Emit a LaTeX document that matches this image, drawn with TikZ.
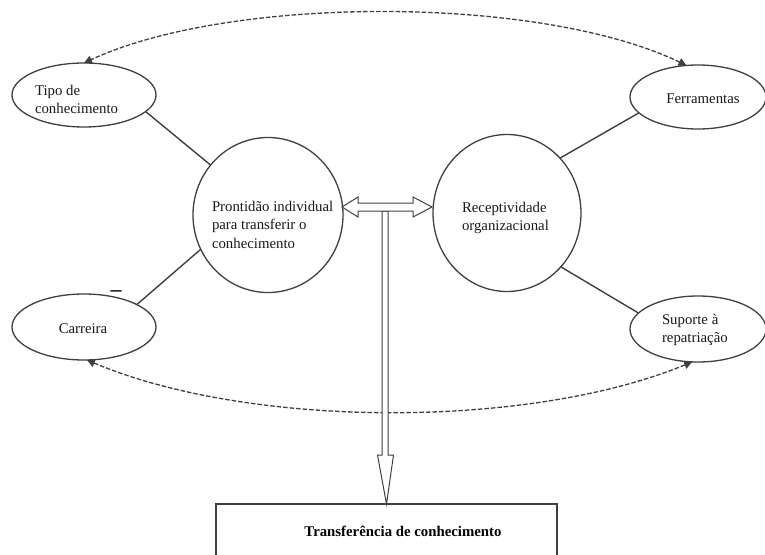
\documentclass[tikz,border=0pt]{standalone}
\usepackage{fontspec}
\setmainfont{Liberation Serif}
\usetikzlibrary{shapes.geometric,arrows.meta}
\definecolor{linec}{gray}{0.25}
\begin{document}
\begin{tikzpicture}[x=1pt,y=-1pt,
  every node/.style={inner sep=0pt, outer sep=0pt},
  oval/.style={ellipse, draw=linec, line width=1.3pt},
  txt/.style={font=\fontsize{14.8}{18.5}\selectfont, align=left, text=black!90},
  link/.style={draw=linec, line width=1.4pt},
  dashlink/.style={draw=linec, line width=1.3pt, dash pattern=on 4.5pt off 2pt, {Triangle[length=8pt,width=8pt]}-{Triangle[length=8pt,width=8pt]}},
  blockarrow/.style={draw=linec, line width=1pt, fill=white, line join=miter}]
\fill[white] (0,0) rectangle (765,554);
\useasboundingbox (0,0) rectangle (765,554);

% ovals and circles
\node[oval, minimum width=144pt, minimum height=64pt] (tipo) at (84,95) {};
\node[oval, minimum width=136pt, minimum height=64pt] (ferr) at (698,97) {};
\node[oval, minimum width=144pt, minimum height=66pt] (carr) at (84,327) {};
\node[oval, minimum width=136pt, minimum height=66pt] (sup) at (698,329) {};
\node[oval, minimum width=150pt, minimum height=155pt] (pront) at (268,215) {};
\node[oval, minimum width=148pt, minimum height=157pt] (recep) at (507,213) {};

% texts
\node[txt, anchor=north west] (tipoT) at (35,85) {Tipo de\\conhecimento};
\node[txt, anchor=base] (ferrT) at (703,103) {Ferramentas};
\node[txt, anchor=base] (carrT) at (83,333) {Carreira};
\node[txt, anchor=north west] (prontT) at (212,201) {Prontidão individual\\para transferir o\\conhecimento};
\node[txt, anchor=north west] (recepT) at (462,202) {Receptividade\\organizacional};
\node[txt, anchor=north west] (supT) at (662,314) {Suporte à\\repatriação};
\node[font=\fontsize{22}{22}\selectfont\bfseries, text=black!90] (minus) at (116,294) {–};

% links
\draw[link] (tipo.-15) -- (pront.139);
\draw[link] (carr.23) -- (pront.207);
\draw[link] (ferr.195) -- (recep.46);
\draw[link] (sup.165) -- (recep.-45);

% dashed curves
\draw[dashlink] (ferr.110) .. controls (540,-5) and (230,-5) .. (tipo.north);
\draw[dashlink] (carr.-85) .. controls (250,429) and (530,429) .. (sup.-100);

% result box
\node[draw=linec, line width=1.1pt, minimum width=341pt, minimum height=60pt, anchor=north] (box) at (386.5,504) {};
\node[font=\fontsize{14.8}{17}\selectfont\bfseries, text=black] (boxT) at (403,531) {Transferência de conhecimento};

% block arrows
\draw[blockarrow] (382,211) -- (388,211) -- (388,455) -- (393.5,455) -- (box.north) -- (377.5,455) -- (382,455) -- cycle;
\draw[blockarrow] (pront.east |- 0,207) ++(-1,0) coordinate (lt) -- (358,197) -- (358,203) -- (413,203) -- (413,197) -- (432,207) coordinate (rt) -- (413,217) -- (413,211) -- (358,211) -- (358,217) -- cycle;
\end{tikzpicture}
\end{document}
